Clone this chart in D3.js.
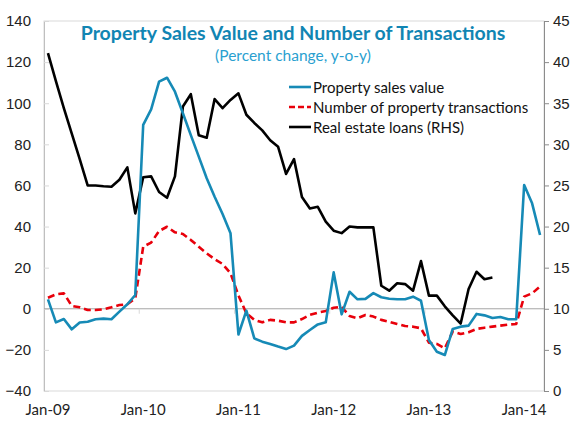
<!DOCTYPE html>
<meta charset="utf-8">
<title>Property Sales Value and Number of Transactions</title>
<style>
  html, body { margin: 0; padding: 0; background: #fff; }
  svg { display: block; font-family: 'Lato', 'Open Sans', sans-serif; }
  .tick text { font-size: 15px; fill: #222; }
  .line { fill: none; stroke-width: 2.6px; stroke-linejoin: round; }
  .legend text { font-size: 15px; fill: #111; dominant-baseline: central; }
</style>
<svg id="chart" width="576" height="421"></svg>
<script src="https://cdn.jsdelivr.net/npm/d3@7"></script>
<script>
  'use strict'
  // monthly, Jan-09 .. Mar-14
  const months = d3.timeMonth.range(new Date(2009, 0, 1), new Date(2014, 3, 1))
  const salesValue = [
    4.6, -6.6, -5.0, -10.0, -6.7, -6.3, -5.1, -4.8, -5.1, -1.4, 2.2, 6.7,
    89.5, 97.0, 110.5, 112.4, 105.6, 95.1, 84.5, 74.0, 63.5, 54.5, 46.1, 36.7,
    -12.5, -0.9, -14.4, -16.0, -17.1, -18.4, -19.6, -17.9, -13.2, -10.3, -7.6, -6.6,
    17.7, -2.7, 8.3, 4.6, 4.8, 7.6, 5.6, 4.9, 4.6, 4.6, 5.9, 3.9,
    -15.2, -20.9, -22.5, -9.8, -8.7, -8.2, -2.5, -3.2, -4.5, -4.0, -5.1, -5.1,
    60.2, 51.3, 35.9
  ]
  const transactions = [
    5.4, 7.0, 7.5, 1.4, 0.7, -0.6, -0.6, -0.3, 0.7, 1.8, 2.2, 5.1,
    30.2, 32.2, 37.8, 39.9, 37.2, 36.4, 33.5, 30.2, 27.0, 24.1, 21.8, 17.3,
    6.5, -2.2, -5.4, -6.6, -5.4, -5.8, -6.6, -6.6, -5.0, -3.0, -1.9, -1.1,
    0.5, 1.0, -3.5, -4.6, -3.0, -3.8, -5.4, -6.3, -7.4, -8.4, -8.7, -9.5,
    -16.5, -17.1, -19.2, -11.1, -12.3, -11.4, -9.8, -9.2, -8.7, -8.2, -7.7, -7.4,
    5.9, 7.5, 10.8
  ]
  // right-hand scale, ends Sep-13
  const realEstateLoans = [
    41.1, 37.7, 34.4, 31.3, 28.2, 25.0, 25.0, 24.9, 24.85, 25.7, 27.2, 21.6,
    26.0, 26.1, 24.2, 23.5, 26.1, 34.6, 36.1, 31.1, 30.8, 35.5, 34.4, 35.4,
    36.2, 33.6, 32.6, 31.7, 30.5, 29.7, 26.4, 28.2, 23.6, 22.2, 22.4, 20.6,
    19.5, 19.2, 20.0, 19.9, 19.9, 19.9, 12.8, 12.2, 13.1, 13.0, 12.2, 15.8,
    11.6, 11.6, 10.3, 9.2, 8.2, 12.4, 14.5, 13.6, 13.8
  ]
  const leftTicks = [-40, -20, 0, 20, 40, 60, 80, 100, 120, 140]
  const rightTicks = [0, 5, 10, 15, 20, 25, 30, 35, 40, 45]
  const seriesNames = ['Property sales value', 'Number of property transactions', 'Real estate loans (RHS)']

  const margin = { top: 21, right: 32, bottom: 30, left: 44 }
  const width = 576 - margin.left - margin.right
  const height = 421 - margin.top - margin.bottom

  const fmt = d3.timeFormat('%b-%y')
  const x = d3.scaleBand().domain(months).range([0, width]).padding(0)
  const cx = d => x(d) + x.bandwidth() / 2
  const yL = d3.scaleLinear().domain([-40, 140]).range([height, 0])
  const yR = d3.scaleLinear().domain([0, 45]).range([height, 0])

  const svg = d3.select('#chart')
  const g = svg.append('g').attr('transform', `translate(${margin.left},${margin.top})`)

  // plot border
  g.append('rect').attr('width', width).attr('height', height)
    .attr('fill', 'none').attr('stroke', '#d9d9d9').attr('stroke-width', 1)

  // left axis, ticks inside
  const axL = g.append('g').call(d3.axisLeft(yL).tickValues(leftTicks).tickSize(-5).tickPadding(13))
  axL.select('.domain').attr('stroke', '#bfbfbf')
  axL.selectAll('.tick line').attr('stroke', '#d9d9d9')

  // right axis
  const axR = g.append('g').attr('transform', `translate(${width},0)`)
    .call(d3.axisRight(yR).tickValues(rightTicks).tickSize(5).tickPadding(4))
  axR.select('.domain').attr('stroke', '#8c8c8c')
  axR.selectAll('.tick line').attr('stroke', '#8c8c8c')

  // zero line
  g.append('line').attr('x1', 0).attr('x2', width)
    .attr('y1', yL(0)).attr('y2', yL(0))
    .attr('stroke', '#a6a6a6').attr('stroke-width', 1)
  g.selectAll('.xtick').data(months.filter((d, i) => i % 12 === 0 && i > 0))
    .enter().append('line')
    .attr('x1', d => x(d)).attr('x2', d => x(d))
    .attr('y1', yL(0)).attr('y2', yL(0) + 5)
    .attr('stroke', '#d9d9d9')

  // x labels at the bottom
  g.selectAll('.xlab').data(months.filter((d, i) => i % 12 === 0))
    .enter().append('text')
    .attr('x', cx).attr('y', height + 24)
    .attr('text-anchor', 'middle')
    .style('font-size', '15px').style('fill', '#222')
    .text(fmt)

  const lineL = d3.line().x((d, i) => cx(months[i])).y(d => yL(d))
  const lineR = d3.line().x((d, i) => cx(months[i])).y(d => yR(d))

  g.append('path').datum(transactions).attr('class', 'line')
    .attr('stroke', '#e8000b').attr('stroke-dasharray', '7,4').attr('d', lineL)
  g.append('path').datum(realEstateLoans).attr('class', 'line')
    .attr('stroke', '#000').attr('d', lineR)
  g.append('path').datum(salesValue).attr('class', 'line')
    .attr('stroke', '#168ab6').attr('d', lineL)

  // titles
  svg.append('text').attr('x', 293).attr('y', 40)
    .attr('text-anchor', 'middle')
    .style('font-size', '19.5px').style('font-weight', 'bold').style('fill', '#1185b3')
    .text('Property Sales Value and Number of Transactions')
  svg.append('text').attr('x', 293).attr('y', 61)
    .attr('text-anchor', 'middle')
    .style('font-size', '15.5px').style('fill', '#2a9fd0')
    .text('(Percent change, y-o-y)')

  // legend
  const styles = [
    { stroke: '#168ab6', dash: null },
    { stroke: '#e8000b', dash: '6,3' },
    { stroke: '#000', dash: null },
  ]
  const leg = svg.append('g').attr('class', 'legend').attr('transform', 'translate(289,87)')
  const item = leg.selectAll('g').data(seriesNames).enter().append('g')
    .attr('transform', (d, i) => `translate(0,${i * 20})`)
  item.append('line').attr('x1', 0).attr('x2', 22)
    .attr('stroke', (d, i) => styles[i].stroke)
    .attr('stroke-dasharray', (d, i) => styles[i].dash)
    .attr('stroke-width', 2.6)
  item.append('text').attr('x', 24).attr('y', 0).text(d => d)
</script>
